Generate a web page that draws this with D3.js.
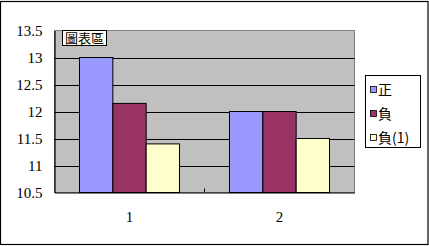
<!DOCTYPE html>
<html>
<head>
<meta charset="utf-8">
<script src="https://cdn.jsdelivr.net/npm/d3@7"></script>
<style>
  body { margin: 0; background: #fff; }
  svg { display: block; }
</style>
</head>
<body>
<svg id="chart" width="429" height="246"></svg>
<script>
'use strict'
// data
const categories = ['1', '2']
const seriesNames = ['正', '負', '負(1)']
const seriesValues = [
  [13, 12],      // 正
  [12.15, 12],   // 負
  [11.4, 11.5]   // 負(1)
]
const yTicks = [10.5, 11, 11.5, 12, 12.5, 13, 13.5]
const colors = ['#9999FF', '#993366', '#FFFFCC']

const svg = d3.select('#chart')
const numFont = '"Liberation Serif", "Times New Roman", serif'
const cjkFont = '"Noto Sans CJK TC", "Noto Sans CJK SC", sans-serif'

// outer chart border
svg.append('rect')
  .attr('x', 0.5).attr('y', 1.5).attr('width', 427.5).attr('height', 243)
  .attr('fill', '#fff').attr('stroke', '#000').attr('stroke-width', 1.2)

const plot = {left: 54.5, right: 354.5, top: 30.5, bottom: 192.5}

const x0 = d3.scaleBand().domain(categories).range([plot.left, plot.right])
const x1 = d3.scaleBand().domain(d3.range(seriesNames.length))
  .range([0, x0.bandwidth()]).paddingInner(0).paddingOuter(0.75)
const y = d3.scaleLinear().domain([10.5, 13.5]).range([plot.bottom, plot.top])

// plot area
svg.append('rect')
  .attr('x', plot.left).attr('y', plot.top)
  .attr('width', plot.right - plot.left).attr('height', plot.bottom - plot.top)
  .attr('fill', '#C0C0C0').attr('stroke', '#808080').attr('stroke-width', 1)

// gridlines
svg.append('g').selectAll('line').data(yTicks.slice(1, -1)).enter().append('line')
  .attr('x1', plot.left).attr('x2', plot.right)
  .attr('y1', d => Math.round(y(d)) + 0.5).attr('y2', d => Math.round(y(d)) + 0.5)
  .attr('stroke', '#000').attr('stroke-width', 1)

// bars
const groups = svg.append('g').selectAll('g').data(categories).enter().append('g')
  .attr('transform', d => `translate(${x0(d)},0)`)
groups.selectAll('rect')
  .data((c, ci) => seriesValues.map((vals, si) => ({si: si, v: vals[ci]})))
  .enter().append('rect')
  .attr('x', d => x1(d.si))
  .attr('y', d => y(d.v))
  .attr('width', x1.bandwidth())
  .attr('height', d => plot.bottom - y(d.v))
  .attr('fill', d => colors[d.si])
  .attr('stroke', '#000').attr('stroke-width', 1)

// axes
const yAxis = svg.append('g').attr('transform', `translate(${plot.left},0)`)
  .call(d3.axisLeft(y).tickValues(yTicks).tickSize(0).tickPadding(12).tickFormat(d3.format('')))
yAxis.attr('font-family', numFont).attr('font-size', 15)
yAxis.select('.domain').attr('stroke', '#000').attr('stroke-width', 1.2)
yAxis.selectAll('text').attr('fill', '#000')

const xAxis = svg.append('g').attr('transform', `translate(0,${plot.bottom})`)
  .call(d3.axisBottom(x0).tickSize(0).tickPadding(19))
xAxis.attr('font-family', numFont).attr('font-size', 15)
xAxis.select('.domain').attr('stroke', '#000').attr('stroke-width', 1.2)
xAxis.selectAll('text').attr('fill', '#000')

// inner tick marks at category boundaries
svg.append('g').selectAll('line').data(categories.slice(1)).enter().append('line')
  .attr('x1', d => x0(d)).attr('x2', d => x0(d))
  .attr('y1', plot.bottom).attr('y2', plot.bottom - 4)
  .attr('stroke', '#000').attr('stroke-width', 1)

// chart area tooltip
const tip = svg.append('g').attr('transform', 'translate(62.5,30.5)')
tip.append('rect').attr('width', 44).attr('height', 15)
  .attr('fill', '#FFFFF0').attr('stroke', '#000').attr('stroke-width', 1)
tip.append('text').attr('x', 22).attr('y', 12.5).attr('text-anchor', 'middle')
  .attr('font-family', cjkFont).attr('font-size', 13).attr('fill', '#000').text('圖表區')

// legend
const legend = svg.append('g').attr('transform', 'translate(365.5,75.5)')
legend.append('rect').attr('width', 55).attr('height', 72)
  .attr('fill', '#fff').attr('stroke', '#000').attr('stroke-width', 1)
const items = legend.selectAll('g.item').data(seriesNames).enter().append('g')
  .attr('class', 'item')
  .attr('transform', (d, i) => `translate(5,${14 + i * 24})`)
items.append('rect').attr('x', 0).attr('y', -3).attr('width', 6).attr('height', 6)
  .attr('fill', (d, i) => colors[i]).attr('stroke', '#000').attr('stroke-width', 0.8)
items.append('text').attr('x', 7.5).attr('y', 5.5)
  .attr('font-family', cjkFont).attr('font-size', 14).attr('fill', '#000')
  .text(d => d)
</script>
</body>
</html>
